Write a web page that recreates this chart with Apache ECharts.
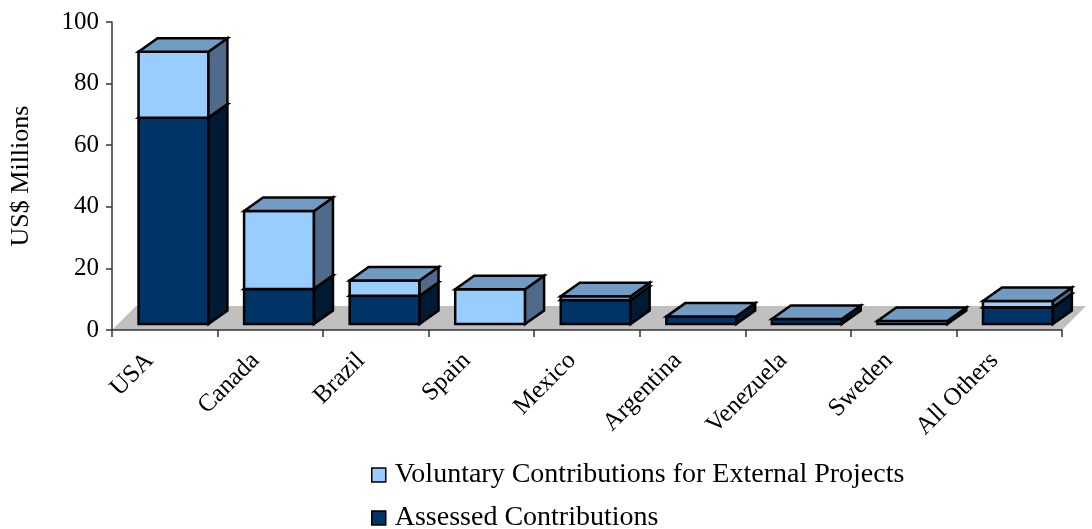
<!DOCTYPE html>
<html>
<head>
<meta charset="utf-8">
<script src="https://cdn.jsdelivr.net/npm/echarts@6/dist/echarts.min.js"></script>
<style>html,body{margin:0;padding:0;background:#fff;}#c{width:1092px;height:529px;}</style>
</head>
<body>
<div id="c"></div>
<script>
const categories = ['USA','Canada','Brazil','Spain','Mexico','Argentina','Venezuela','Sweden','All Others'];
const assessed = [67.0, 11.4, 9.2, 0, 7.8, 2.4, 1.6, 0, 5.4];
const voluntary = [21.4, 25.3, 4.9, 11.3, 1.2, 0, 0, 1.0, 2.1];
const yTicks = [0, 20, 40, 60, 80, 100];
const seriesNames = ['Voluntary Contributions for External Projects', 'Assessed Contributions'];

const FONT = '"Liberation Serif", "DejaVu Serif", serif';
const FRONT_LIGHT = '#99CCFF', SIDE_LIGHT = '#4F6A8A';
const FRONT_DARK = '#003366', SIDE_DARK = '#001A33';
const TOP_COLOR = '#729BC3';
const DX = 19, DY = -13.5, OX = 8.7, OY = -6;

function renderBox(frontColor, sideColor) {
  return function (params, api) {
    const i = api.value(0), base = api.value(1), top = api.value(2);
    if (!(top - base > 0)) return null;
    const p0 = api.coord([i, base]);
    const p1 = api.coord([i, top]);
    const band = api.size([1, 0])[0];
    const bw = band * 0.662;
    const cx = p0[0] + OX;
    const x0 = cx - bw / 2, x1 = cx + bw / 2;
    const yb = p0[1] + OY, yt = p1[1] + OY;
    const st = {stroke: '#000', lineWidth: 2.5, lineJoin: 'miter'};
    return {
      type: 'group',
      children: [
        {type: 'polygon', shape: {points: [[x0, yb], [x1, yb], [x1, yt], [x0, yt]]},
          style: Object.assign({fill: frontColor}, st)},
        {type: 'polygon', shape: {points: [[x1, yb], [x1 + DX, yb + DY], [x1 + DX, yt + DY], [x1, yt]]},
          style: Object.assign({fill: sideColor}, st)},
        {type: 'polygon', shape: {points: [[x0, yt], [x1, yt], [x1 + DX, yt + DY], [x0 + DX, yt + DY]]},
          style: Object.assign({fill: TOP_COLOR}, st)}
      ]
    };
  };
}

const assessedData = categories.map((c, i) => [i, 0, assessed[i]]);
const voluntaryData = categories.map((c, i) => [i, assessed[i], assessed[i] + voluntary[i]]);

function legendFor(idx, top, color) {
  return {
    orient: 'vertical', left: 366, top: top,
    itemWidth: 14, itemHeight: 14, icon: 'rect',
    selectedMode: false,
    textStyle: {fontFamily: FONT, fontSize: 28, color: '#000', padding: [0, 0, 0, 4]},
    data: [{name: seriesNames[idx], itemStyle: {color: color, borderColor: '#000', borderWidth: 1.5}}]
  };
}

const chart = echarts.init(document.getElementById('c'), null, {renderer: 'canvas'});
chart.setOption({
  animation: false,
  backgroundColor: '#fff',
  grid: {left: 111, right: 30, top: 22, bottom: 199, containLabel: false},
  legend: [legendFor(0, 456, FRONT_LIGHT), legendFor(1, 499, FRONT_DARK)],
  xAxis: {
    type: 'category', data: categories, boundaryGap: true, z: 10,
    axisLine: {lineStyle: {color: '#333', width: 1.5}},
    axisTick: {show: true, interval: 0, length: 7, lineStyle: {color: '#333', width: 1.5}},
    axisLabel: {interval: 0, rotate: 45, margin: 12, fontFamily: FONT, fontSize: 25, color: '#000', padding: [0, 21, 0, 0]},
    splitLine: {show: false}
  },
  yAxis: {
    type: 'value', min: 0, max: 100, interval: 20, z: 10,
    name: 'US$ Millions', nameLocation: 'middle', nameRotate: 90, nameGap: 78,
    nameTextStyle: {fontFamily: FONT, fontSize: 26, color: '#000'},
    axisLine: {show: true, lineStyle: {color: '#333', width: 1.5}},
    axisTick: {show: true, length: 6, lineStyle: {color: '#333', width: 1.5}},
    axisLabel: {fontFamily: FONT, fontSize: 25, color: '#000', margin: 13,
      formatter: v => yTicks.indexOf(v) >= 0 ? String(v) : ''},
    splitLine: {show: false}
  },
  series: [
    {
      type: 'custom', name: 'floor', z: 1, silent: true,
      data: [[0, 0]],
      renderItem: function (params, api) {
        const cs = params.coordSys;
        const yb = cs.y + cs.height, xl = cs.x, xr = cs.x + cs.width;
        return {type: 'polygon', shape: {points: [[xl, yb], [xr, yb], [xr + 24, yb - 24], [xl + 24, yb - 24]]},
          style: {fill: '#C0C0C0', stroke: null}};
      }
    },
    {
      type: 'custom', name: seriesNames[1], z: 2,
      itemStyle: {color: FRONT_DARK},
      encode: {x: 0, y: 2},
      data: assessedData,
      renderItem: renderBox(FRONT_DARK, SIDE_DARK)
    },
    {
      type: 'custom', name: seriesNames[0], z: 3,
      itemStyle: {color: FRONT_LIGHT},
      encode: {x: 0, y: 2},
      data: voluntaryData,
      renderItem: renderBox(FRONT_LIGHT, SIDE_LIGHT)
    }
  ]
});
</script>
</body>
</html>
